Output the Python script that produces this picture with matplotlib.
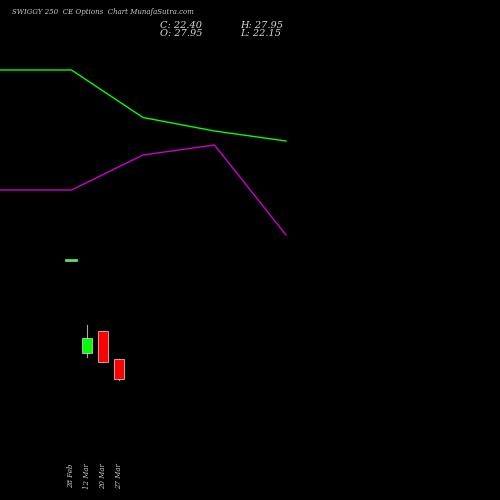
import matplotlib.pyplot as plt
import numpy as np

dates = ["28 Feb", "12 Mar", "20 Mar", "27 Mar"]
opens = [55.4, 29.5, 35.7, 27.95]
closes = [55.4, 33.7, 27.1, 22.40]
highs = [55.4, 37.3, 35.7, 27.95]
lows = [55.4, 28.4, 27.1, 22.15]

line_green = [8.6, 8.6, 7.65, 7.38, 7.18]
line_magenta = [6.2, 6.2, 6.9, 7.1, 5.3]

fig = plt.figure(figsize=(5, 5), dpi=100, facecolor="black")

ax = fig.add_axes([0, 0, 1, 1], facecolor="black")
ax.set_xlim(-4.4375, 26.8125)
ax.set_ylim(-11.2, 127.6)
ax.axis("off")

for i in range(len(dates)):
    o, c, h, l = opens[i], closes[i], highs[i], lows[i]
    if o == c:
        ax.plot([i - 0.3, i + 0.3], [o, o], color="#66dd66", lw=2)
    else:
        col = "#00ff00" if c > o else "#ff0000"
        ax.plot([i, i], [l, h], color="#aaaaaa", lw=0.8, zorder=1)
        ax.bar(i, abs(c - o), bottom=min(o, c), width=0.6, color=col,
               edgecolor="#dddddd", lw=0.5, zorder=2)
    ax.text(i, -1.0, dates[i], rotation=90, color="#cccccc", fontsize=5,
            ha="center", va="top", family="DejaVu Serif", style="italic")

ax2 = fig.add_axes([0, 0, 1, 1], facecolor="none")
ax2.set_xlim(0, 500 / 71.5)
ax2.set_ylim(0, 10)
ax2.axis("off")
xs = np.arange(len(line_green))
ax2.plot(xs, line_green, color="#00ff00", lw=1)
ax2.plot(xs, line_magenta, color="#cc00cc", lw=1)

fig.text(0.025, 0.972, "SWIGGY 250  CE Options  Chart MunafaSutra.com", color="#cccccc",
         fontsize=5, family="DejaVu Serif", style="italic")
fig.text(0.32, 0.945, "C: 22.40", color="#dddddd", fontsize=7, family="DejaVu Serif", style="italic")
fig.text(0.32, 0.928, "O: 27.95", color="#dddddd", fontsize=7, family="DejaVu Serif", style="italic")
fig.text(0.48, 0.945, "H: 27.95", color="#dddddd", fontsize=7, family="DejaVu Serif", style="italic")
fig.text(0.48, 0.928, "L: 22.15", color="#dddddd", fontsize=7, family="DejaVu Serif", style="italic")

fig.savefig("out.png", dpi=100, facecolor="black")
